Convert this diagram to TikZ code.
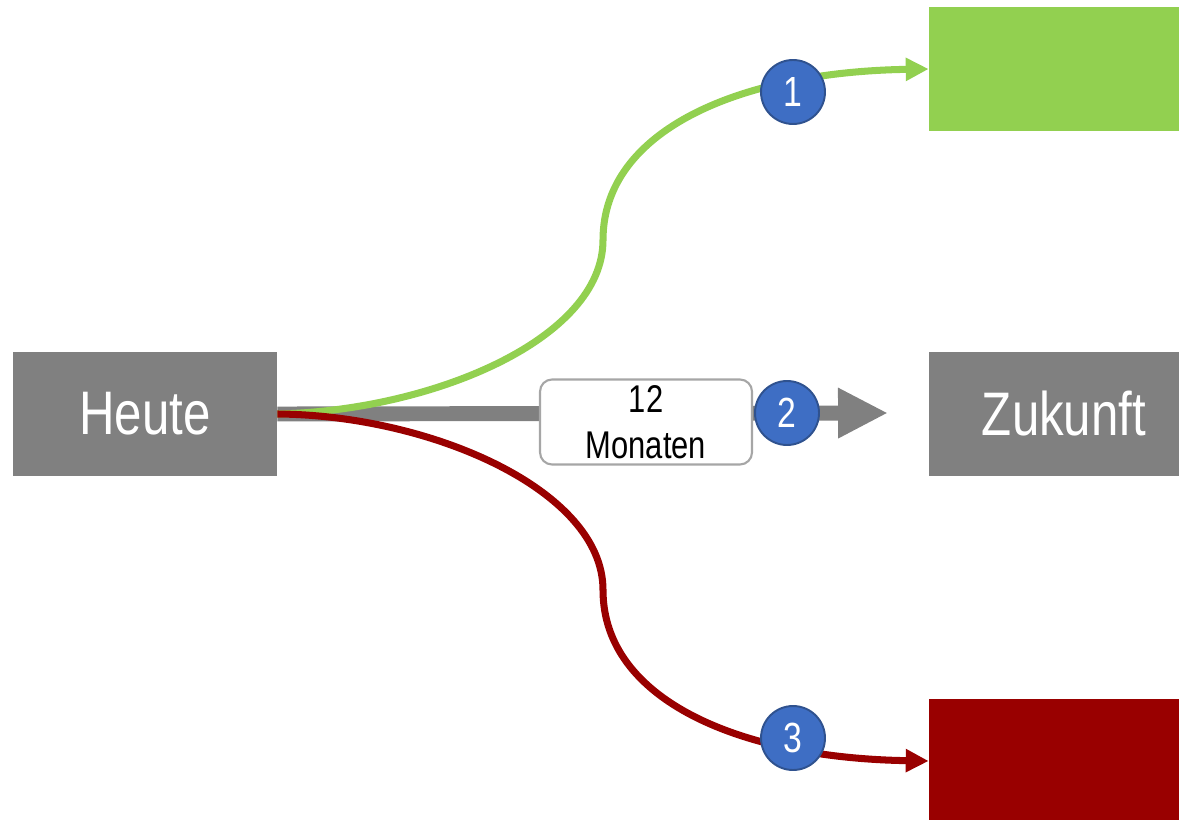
\documentclass[tikz,border=0pt]{standalone}
\usepackage{fontspec}
\setmainfont{Liberation Sans}[FakeStretch=0.8]
\usepackage{tikz}
\usetikzlibrary{arrows.meta}
\definecolor{grau}{RGB}{128,128,128}
\definecolor{gruen}{RGB}{146,208,80}
\definecolor{rot}{RGB}{153,0,0}
\definecolor{blau}{RGB}{62,110,196}
\definecolor{blaurand}{RGB}{47,82,143}
\tikzset{block/.style={minimum height=2.48cm, minimum width=5cm, inner sep=0pt, text=white, font=\fontsize{35}{40}\selectfont},
nummer/.style={circle, draw=blaurand, fill=blau, line width=1.1pt, minimum size=1.28cm, inner sep=0pt, text=white, font=\fontsize{24}{28}\selectfont},
dauer/.style={draw=grau!70, fill=white, rounded corners=0.24cm, line width=1.2pt, minimum width=4.24cm, minimum height=1.7cm, align=center, inner sep=0pt, font=\fontsize{22}{26}\selectfont},
pfeil/.style={line width=4pt, -{Triangle[length=0.46cm, width=0.44cm]}}
}
\begin{document}
\begin{tikzpicture}[x=0.02cm, y=-0.02cm]
\useasboundingbox (0,0) rectangle (1179,820);
\node[block, fill=grau, minimum width=5.28cm] (Heute) at (145,414) {Heute};
\node[block, fill=grau] (Zukunft) at (1054,414) {\hspace{0.4cm}Zukunft};
\node[block, fill=gruen] (Gruen) at (1054,69) {};
\node[block, fill=rot] (Rot) at (1054,761) {};
\coordinate (Ende) at (888,413);
\coordinate (Wende 1) at (603,240);
\coordinate (Wende 3) at (603,590);

\draw[line width=8.5pt, grau, -{Triangle[length=1cm, width=0.94cm]}] (Heute.east) -- (Ende);
\draw[pfeil, gruen] (Heute.east) .. controls (430,411) and (603,340) .. (Wende 1) .. controls (603,130) and (740,72) .. (Gruen.west);
\draw[pfeil, rot] (Heute.east) .. controls (430,415) and (603,490) .. (Wende 3) .. controls (603,700) and (740,758) .. (Rot.west);

\node[dauer] (Dauer) at (646,422) {12\\Monaten};
\node[nummer] (Nummer 1) at (793,92) {1};
\node[nummer] (Nummer 2) at (787,413) {2};
\node[nummer] (Nummer 3) at (793,738) {3};
\end{tikzpicture}
\end{document}
